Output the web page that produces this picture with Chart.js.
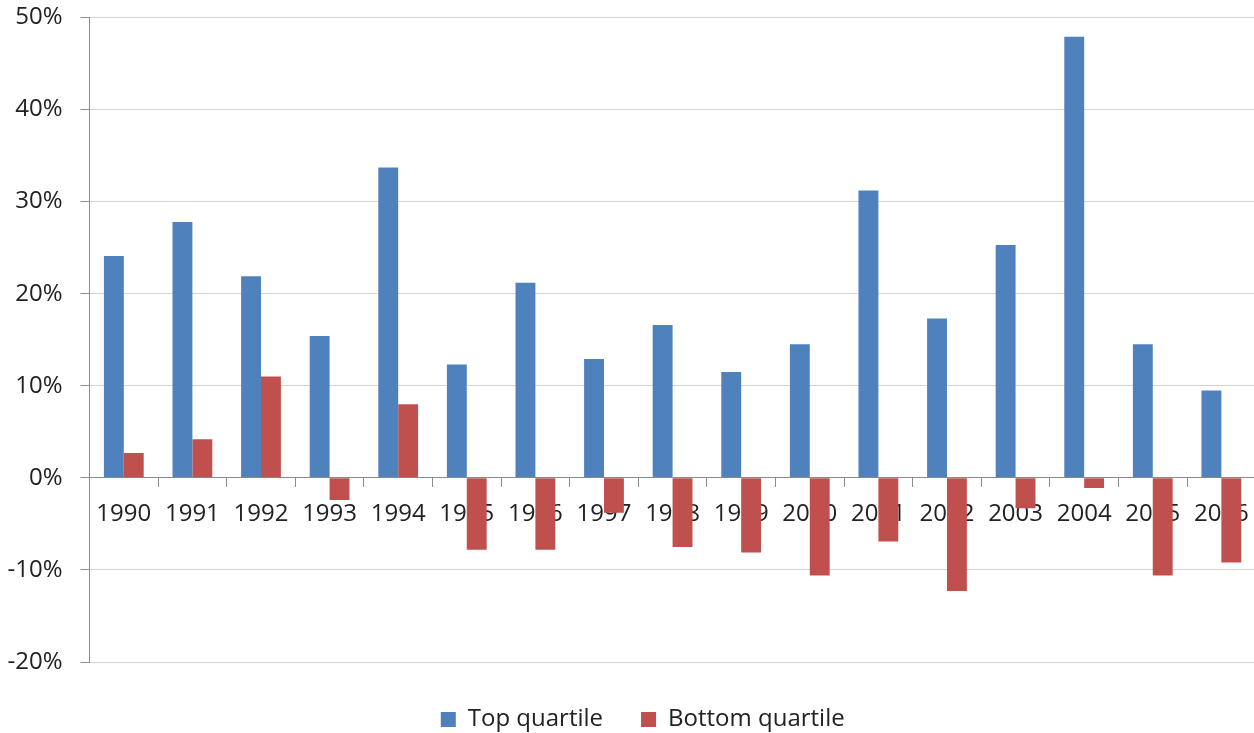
<!DOCTYPE html>
<html>
<head>
<meta charset="utf-8">
<script src="https://cdn.jsdelivr.net/npm/chart.js@4/dist/chart.umd.min.js"></script>
<style>
  html, body { margin: 0; padding: 0; background: #ffffff; overflow: hidden; }
  #wrap { position: relative; width: 1262px; height: 733px; }
</style>
</head>
<body>
<div id="wrap"><canvas id="chart"></canvas></div>
<script>
// Annual returns by quartile, in percent
const years = ['1990', '1991', '1992', '1993', '1994', '1995', '1996', '1997', '1998',
               '1999', '2000', '2001', '2002', '2003', '2004', '2005', '2006'];
const topQuartile = [24.1, 27.8, 21.9, 15.4, 33.7, 12.3, 21.2, 12.9, 16.6,
                     11.5, 14.5, 31.2, 17.3, 25.3, 47.9, 14.5, 9.5];
const bottomQuartile = [2.7, 4.2, 11.0, -2.4, 8.0, -7.8, -7.8, -3.8, -7.5,
                        -8.1, -10.6, -6.9, -12.3, -3.3, -1.1, -10.6, -9.2];
const seriesNames = ['Top quartile', 'Bottom quartile'];
const yTicks = { min: -20, max: 50, step: 10 };

const FONT = { family: "'Open Sans', 'Noto Sans', sans-serif", size: 24 };
const TEXT = '#222222';
const AXIS = '#8c8c8c';
const GRID = '#d4d4d4';

// Nudge the legend a little to the right of the canvas centre
const legendNudge = {
  id: 'legendNudge',
  afterLayout(chart) {
    const lg = chart.legend;
    if (lg) { lg.left += 13; lg.right += 13; }
  }
};

new Chart(document.getElementById('chart'), {
  type: 'bar',
  data: {
    labels: years,
    datasets: [
      { label: seriesNames[0], data: topQuartile, backgroundColor: '#4f81bd', borderWidth: 0 },
      { label: seriesNames[1], data: bottomQuartile, backgroundColor: '#c0504d', borderWidth: 0 }
    ]
  },
  plugins: [legendNudge],
  options: {
    responsive: true,
    maintainAspectRatio: false,
    animation: false,
    datasets: { bar: { categoryPercentage: 0.58, barPercentage: 1.0 } },
    layout: { padding: { left: 0, right: 2.5, top: 17.5, bottom: 0 } },
    scales: {
      x: {
        position: { y: 0 },
        offset: true,
        grid: { display: true, drawOnChartArea: false, drawTicks: true, tickLength: 9, color: AXIS, offset: true },
        border: { display: true, color: AXIS, width: 1 },
        ticks: { font: FONT, color: TEXT, padding: 13, maxRotation: 0, autoSkip: false }
      },
      spacer: {
        type: 'category',
        position: 'bottom',
        labels: years,
        grid: { display: false, drawTicks: false },
        border: { display: false },
        ticks: { display: false },
        afterFit(scale) { scale.height = 7.5; }
      },
      y: {
        min: yTicks.min,
        max: yTicks.max,
        grid: { color: GRID, tickColor: AXIS, tickLength: 9, lineWidth: 1 },
        border: { display: true, color: AXIS, width: 1 },
        ticks: {
          stepSize: yTicks.step,
          font: FONT,
          color: TEXT,
          padding: 18,
          callback: (v) => v + '%'
        },
        afterFit(scale) {
          scale.width = 89.5;
          scale.paddingTop = 0;
          scale.paddingBottom = 0;
        }
      }
    },
    plugins: {
      tooltip: { enabled: false },
      legend: {
        position: 'bottom',
        maxHeight: 63.5,
        labels: {
          font: FONT,
          color: TEXT,
          boxWidth: 15,
          boxHeight: 15,
          padding: 38
        }
      }
    }
  }
});
</script>
</body>
</html>
